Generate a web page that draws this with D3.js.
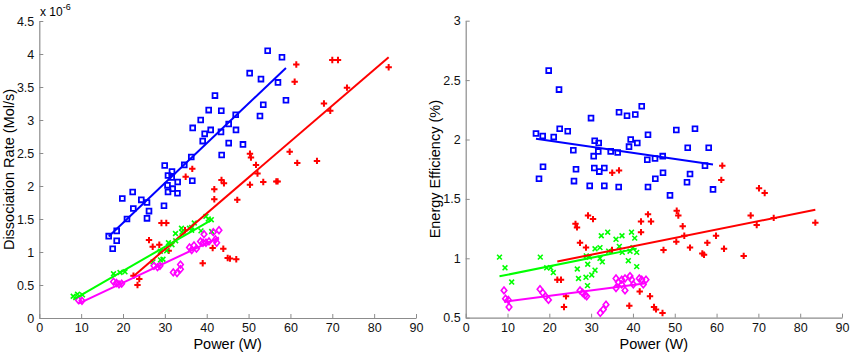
<!DOCTYPE html>
<html>
<head>
<meta charset="utf-8">
<script src="https://cdn.jsdelivr.net/npm/d3@7"></script>
<style>
  body { margin: 0; background: #fff; }
  svg { display: block; font-family: Arial, "Liberation Sans", Helvetica, sans-serif; }
</style>
</head>
<body>
<svg id="chart"></svg>
<script>
"use strict";

// Data: [power (W), value] pairs
// Left panel: dissociation rate in units of 1e-6 Mol/s
const rateBlue = [[16.58,1.24],[18.49,1.32],[17.53,1.05],[18.49,1.17],[20.95,1.50],[19.83,1.81],[22.31,1.91],[22.46,1.66],[24.37,1.79],[25.73,1.75],[25.73,1.51],[26.21,1.62],[29.79,1.70],[29.96,2.31],[31.70,2.22],[30.75,2.16],[31.63,2.13],[30.63,2.01],[31.87,1.96],[30.75,1.91],[33.01,1.89],[33.06,2.06],[36.55,2.08],[34.64,2.32],[36.31,2.44],[39.04,2.68],[39.51,2.79],[36.65,2.88],[38.56,3.00],[40.95,2.85],[43.41,2.82],[40.47,3.15],[43.48,3.14],[41.97,3.37],[45.25,2.94],[46.99,2.85],[46.92,3.08],[45.25,2.65],[43.57,2.47],[48.66,2.63],[50.26,3.71],[52.96,3.62],[53.51,3.23],[52.72,3.06],[54.56,4.05],[57.98,3.95],[57.02,3.57],[58.93,3.30]];
const rateRed = [[22.50,0.64],[23.89,0.59],[23.46,0.50],[26.21,1.18],[27.09,1.08],[28.67,1.11],[29.19,1.44],[30.34,1.44],[30.91,1.02],[34.81,1.33],[34.97,2.14],[36.55,2.26],[39.04,0.83],[41.42,1.06],[41.81,1.95],[41.81,1.80],[43.53,2.09],[44.12,2.04],[43.96,1.05],[45.01,0.91],[45.56,0.90],[47.06,0.89],[47.30,1.79],[50.33,2.49],[50.57,2.43],[51.77,2.32],[52.13,2.19],[50.33,2.02],[53.51,2.06],[56.62,2.07],[56.95,2.07],[59.82,2.52],[61.01,3.58],[61.40,3.84],[61.63,2.35],[66.34,2.38],[68.01,3.25],[69.52,3.14],[70.00,3.91],[71.36,3.91],[73.51,3.49],[83.47,3.80]];
const rateGreen = [[8.10,0.33],[9.13,0.36],[10.32,0.35],[17.73,0.67],[19.28,0.69],[20.47,0.70],[27.16,0.85],[28.95,0.88],[29.55,0.89],[28.91,1.01],[30.43,1.02],[30.86,1.14],[31.70,1.11],[32.54,1.28],[32.58,1.17],[33.97,1.36],[34.09,1.30],[35.88,1.36],[36.41,1.37],[37.03,1.44],[36.41,1.33],[38.63,1.32],[39.82,1.54],[40.37,1.50],[41.09,1.49],[41.18,1.31]];
const rateMagenta = [[9.36,0.27],[10.20,0.26],[17.73,0.55],[18.44,0.53],[19.04,0.51],[19.68,0.52],[27.40,0.79],[28.24,0.77],[28.83,0.79],[32.01,0.69],[32.90,0.68],[33.73,0.74],[33.73,0.81],[35.88,1.07],[36.41,1.03],[36.96,1.10],[37.55,1.05],[38.51,1.16],[39.11,1.14],[39.35,1.27],[39.82,1.14],[40.54,1.16],[41.57,1.30],[42.09,1.19],[42.38,1.14],[42.93,1.33]];

// Right panel: energy efficiency (%)
const effBlue = [[16.81,2.05],[17.53,1.67],[18.42,2.03],[18.49,1.77],[19.85,2.58],[21.05,2.02],[22.32,2.42],[22.48,2.09],[24.40,2.07],[25.74,1.91],[25.90,1.65],[26.38,1.75],[29.66,1.61],[29.97,2.18],[30.61,1.86],[30.76,1.76],[30.85,1.99],[31.71,1.90],[31.81,1.97],[31.95,1.73],[33.15,1.76],[33.15,1.61],[34.68,1.90],[36.35,1.89],[36.59,1.60],[36.67,2.23],[38.58,2.20],[39.06,1.94],[39.46,2.00],[40.56,2.21],[41.04,1.97],[42.10,2.28],[43.43,1.83],[43.60,2.04],[43.60,1.60],[45.28,1.84],[45.35,1.67],[47.12,1.86],[47.19,1.72],[48.86,1.53],[50.37,2.08],[53.10,1.93],[52.93,1.64],[53.65,1.71],[54.84,2.09],[57.23,1.78],[58.12,1.93],[59.15,1.58]];
const effRed = [[21.91,0.82],[22.79,0.82],[23.51,0.59],[23.99,0.68],[26.26,1.29],[26.62,1.26],[27.34,1.13],[28.77,1.09],[29.25,1.36],[30.45,1.33],[35.04,1.72],[36.67,1.74],[34.99,1.07],[39.13,0.60],[41.62,0.72],[41.93,1.31],[41.93,1.22],[43.60,1.37],[44.08,0.68],[44.32,1.31],[45.04,0.59],[45.52,0.57],[47.07,0.54],[47.31,1.07],[50.47,1.40],[50.85,1.36],[50.37,1.14],[51.90,1.27],[52.28,1.19],[53.65,1.09],[56.59,1.04],[57.00,1.03],[57.79,1.13],[59.87,1.19],[61.13,1.66],[61.37,1.78],[61.78,1.08],[66.49,1.02],[68.16,1.36],[69.60,1.28],[70.15,1.59],[71.51,1.55],[73.67,1.34],[83.62,1.30]];
const effGreen = [[8.08,1.01],[9.40,0.92],[11.00,0.80],[17.84,1.01],[19.37,0.92],[20.33,0.92],[20.95,0.88],[26.69,0.91],[26.98,0.83],[28.84,1.02],[29.18,0.95],[29.56,1.01],[28.77,0.84],[29.13,0.77],[30.14,0.86],[30.93,0.90],[30.93,1.08],[32.12,1.09],[32.43,1.19],[33.96,1.22],[32.12,1.00],[32.67,0.97],[34.20,1.06],[35.95,1.16],[37.38,1.19],[36.74,1.10],[37.45,1.05],[38.89,0.98],[39.66,1.22],[40.42,1.17],[40.01,1.09],[39.30,1.06],[40.90,1.05],[40.90,0.93]];
const effMagenta = [[9.16,0.73],[9.52,0.66],[10.19,0.65],[10.36,0.59],[17.77,0.74],[18.42,0.71],[19.09,0.68],[19.80,0.65],[27.34,0.73],[27.94,0.71],[28.53,0.69],[28.94,0.68],[32.19,0.54],[32.91,0.57],[33.56,0.61],[35.95,0.83],[36.50,0.80],[35.95,0.75],[37.31,0.82],[37.31,0.78],[38.10,0.73],[38.10,0.83],[39.30,0.85],[39.70,0.82],[40.09,0.78],[41.52,0.83],[42.09,0.82],[43.12,0.82],[42.48,0.78]];

// Axis ticks
const xTicks = [0, 10, 20, 30, 40, 50, 60, 70, 80, 90];
const rateTicks = [0, 0.5, 1, 1.5, 2, 2.5, 3, 3.5, 4, 4.5];
const effTicks = [0.5, 1, 1.5, 2, 2.5, 3];

// Marker shapes, drawn around (0,0)
const markers = {
  square: "M-2.4,-2.4H2.4V2.4H-2.4Z",
  plus: "M-3.2,0H3.2M0,-3.2V3.2",
  times: "M-2.4,-2.4L2.4,2.4M-2.4,2.4L2.4,-2.4",
  diamond: "M0,-3.4L2.8,0L0,3.4L-2.8,0Z"
};
const markerWidth = { square: 1.8, plus: 2, times: 1.6, diamond: 1.6 };

const svg = d3.select("#chart")
  .attr("width", 852)
  .attr("height", 353);

svg.append("rect").attr("width", 852).attr("height", 353).attr("fill", "#fff");

// least squares fit drawn over the data range
function fitLine(pts) {
  const mx = d3.mean(pts, d => d[0]);
  const my = d3.mean(pts, d => d[1]);
  const sxy = d3.sum(pts, d => (d[0] - mx) * (d[1] - my));
  const sxx = d3.sum(pts, d => (d[0] - mx) * (d[0] - mx));
  const b = sxy / sxx, a = my - b * mx;
  const [x0, x1] = d3.extent(pts, d => d[0]);
  return [[x0, a + b * x0], [x1, a + b * x1]];
}

function drawPanel(p) {
  const x = d3.scaleLinear().domain([0, 90]).range(p.xRange);
  const y = d3.scaleLinear().domain(p.yDomain).range(p.yRange);
  const g = svg.append("g");

  const xAxis = g.append("g")
    .attr("transform", `translate(0,${p.yRange[0]})`)
    .call(d3.axisBottom(x).tickValues(xTicks).tickSizeInner(-4).tickSizeOuter(0).tickPadding(5));
  const yAxis = g.append("g")
    .attr("transform", `translate(${p.xRange[0]},0)`)
    .call(d3.axisLeft(y).tickValues(p.yTicks).tickFormat(d3.format("")).tickSizeInner(-4).tickSizeOuter(0).tickPadding(5));

  [xAxis, yAxis].forEach(ax => {
    ax.select(".domain").attr("stroke", "#8c8c8c").attr("stroke-width", 1.2);
    ax.selectAll(".tick line").attr("stroke", "#8c8c8c");
    ax.selectAll(".tick text").attr("fill", "#111").attr("font-size", 12.5)
      .attr("font-family", "Arial, 'Liberation Sans', sans-serif");
  });

  p.series.forEach(s => {
    g.append("g").selectAll("path")
      .data(s.data)
      .enter()
      .append("path")
      .attr("transform", d => `translate(${x(d[0])},${y(d[1])})`)
      .attr("d", markers[s.marker])
      .attr("fill", "none")
      .attr("stroke", s.color)
      .attr("stroke-width", markerWidth[s.marker]);
  });

  p.series.forEach(s => {
    const ends = fitLine(s.data);
    g.append("line")
      .attr("x1", x(ends[0][0])).attr("y1", y(ends[0][1]))
      .attr("x2", x(ends[1][0])).attr("y2", y(ends[1][1]))
      .attr("stroke", s.color)
      .attr("stroke-width", 2);
  });

  // axis titles
  g.append("text")
    .attr("x", (p.xRange[0] + p.xRange[1]) / 2)
    .attr("y", 349)
    .attr("text-anchor", "middle")
    .attr("font-size", 14.5)
    .text("Power (W)");

  g.append("text")
    .attr("transform", `translate(${p.yLabelX},${(p.yRange[0] + p.yRange[1]) / 2}) rotate(-90)`)
    .attr("text-anchor", "middle")
    .attr("font-size", 14.5)
    .text(p.yLabel);
}

drawPanel({
  xRange: [39.3, 416],
  yDomain: [0, 4.5],
  yRange: [318, 21],
  yTicks: rateTicks,
  yLabel: "Dissociation Rate (Mol/s)",
  yLabelX: 14,
  series: [
    { data: rateBlue, color: "#0000ff", marker: "square" },
    { data: rateRed, color: "#ff0000", marker: "plus" },
    { data: rateGreen, color: "#00ff00", marker: "times" },
    { data: rateMagenta, color: "#ff00ff", marker: "diamond" }
  ]
});

drawPanel({
  xRange: [465.7, 842],
  yDomain: [0.5, 3],
  yRange: [317.7, 20.7],
  yTicks: effTicks,
  yLabel: "Energy Efficiency (%)",
  yLabelX: 440,
  series: [
    { data: effBlue, color: "#0000ff", marker: "square" },
    { data: effRed, color: "#ff0000", marker: "plus" },
    { data: effGreen, color: "#00ff00", marker: "times" },
    { data: effMagenta, color: "#ff00ff", marker: "diamond" }
  ]
});

// exponent label above the left axis
const expo = svg.append("text")
  .attr("x", 40)
  .attr("y", 16)
  .attr("font-size", 12);
expo.append("tspan").text("x 10");
expo.append("tspan").attr("dy", -6).attr("font-size", 9).text("-6");
</script>
</body>
</html>
